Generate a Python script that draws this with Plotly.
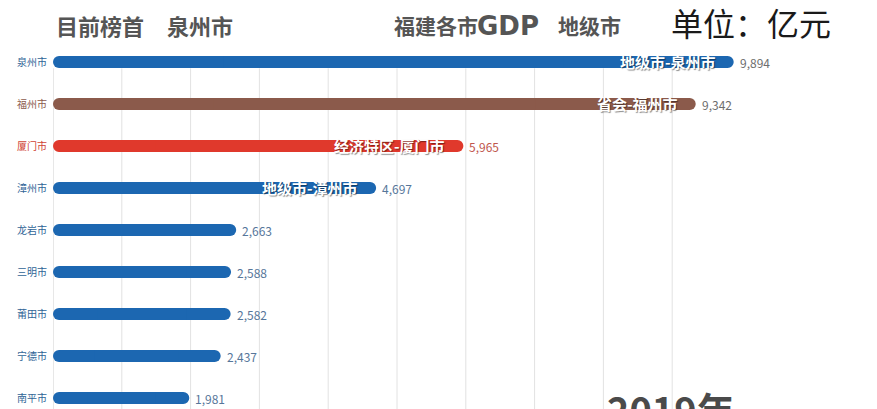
import plotly.graph_objects as go

cities = ["泉州市", "福州市", "厦门市", "漳州市", "龙岩市", "三明市", "莆田市", "宁德市", "南平市"]
gdp = [9894, 9342, 5965, 4697, 2663, 2588, 2582, 2437, 1981]
inner_labels = ["地级市-泉州市", "省会-福州市", "经济特区-厦门市", "地级市-漳州市", "", "", "", "", ""]
year_label = "2019年"
title_left_a = "目前榜首"
title_left_b = "泉州市"
title_mid_a = "福建各市"
title_mid_b = "GDP"
title_mid_c = "地级市"
unit_label = "单位：亿元"
grid_ticks = [1000, 2000, 3000, 4000, 5000, 6000, 7000, 8000, 9000]

BLUE = "#1c67b1"
BROWN = "#8b5a4b"
RED = "#e0392c"
bar_colors = [BLUE, BROWN, RED, BLUE, BLUE, BLUE, BLUE, BLUE, BLUE]
label_colors = ["#2f6496", "#8b5a4b", "#cf4336", "#2f6496", "#2f6496", "#2f6496", "#2f6496", "#2f6496", "#2f6496"]
value_colors = ["#6d6d6d", "#6d6d6d", "#c0574d", "#56769a", "#56769a", "#56769a", "#56769a", "#56769a", "#56769a"]

FONT = "Noto Sans CJK SC"
W, H = 877, 409
ML, MT, MR, MB = 53, 41, 124, 0
PW, PH = W - ML - MR, H - MT - MB
ROW_PX = 42.0

def px(x):
    return (x - ML) / PW

def py(y):
    return 1 + (MT - y) / PH

idx = list(range(len(cities)))
BW = 12 / ROW_PX
half = [v / 2 for v in gdp]

fig = go.Figure()
# left piece, drawn from the middle back to 0 -> rounded cap at 0
fig.add_trace(go.Bar(
    y=idx, x=[-h for h in half], base=half, orientation="h", width=BW,
    marker=dict(color=bar_colors, cornerradius=6, line=dict(width=0)),
    cliponaxis=False, hoverinfo="skip", showlegend=False,
))
# right piece, from the middle to the value -> rounded cap at the value
fig.add_trace(go.Bar(
    y=idx, x=half, base=half, orientation="h", width=BW,
    marker=dict(color=bar_colors, cornerradius=6, line=dict(width=0)),
    cliponaxis=False, hoverinfo="skip", showlegend=False,
))
# square middle piece hiding the joint
fig.add_trace(go.Bar(
    y=idx, x=half, base=[v / 4 for v in gdp], orientation="h", width=BW,
    marker=dict(color=bar_colors, cornerradius=0, line=dict(width=0)),
    cliponaxis=False, hoverinfo="skip", showlegend=False,
))

annotations = []
for i, (v, lab) in enumerate(zip(gdp, inner_labels)):
    annotations.append(dict(
        x=v, y=i, xref="x", yref="y", text=f"{v:,}", showarrow=False,
        xanchor="left", yanchor="middle", xshift=4, yshift=0,
        font=dict(family=FONT, size=12, color=value_colors[i]),
    ))
    if lab:
        annotations.append(dict(
            x=v, y=i, xref="x", yref="y", text=f"<b>{lab}</b>", showarrow=False,
            xanchor="right", yanchor="middle", xshift=-16, yshift=1,
            font=dict(family=FONT, size=15, color="white",
                      shadow="1px 1px 1px rgba(0,0,0,0.45)"),
        ))

def title(text, x, y, size, color, bold=True, family=FONT):
    return dict(x=px(x), y=py(y), xref="paper", yref="paper",
                text=f"<b>{text}</b>" if bold else text,
                showarrow=False, xanchor="left", yanchor="middle",
                font=dict(family=family, size=size, color=color))

annotations += [
    title(title_left_a, 54, 25, 22, "#555555"),
    title(title_left_b, 165, 25, 22, "#555555"),
    title(title_mid_a, 392, 25, 21, "#555555"),
    title(title_mid_b, 475, 26, 26, "#555555", family="DejaVu Sans"),
    title(title_mid_c, 556, 25, 21, "#555555"),
    title(unit_label, 669, 22, 32, "#1a1a1a", bold=False),
    title(year_label, 605, 408, 38, "#4a4a4a"),
]

grid_top = 0.15
shapes = []
for t in grid_ticks:
    shapes.append(dict(type="line", xref="x", yref="y", x0=t, x1=t, y0=grid_top, y1=8.5,
                       line=dict(color="#e2e2e2", width=1), layer="below"))
shapes.append(dict(type="line", xref="x", yref="y", x0=0, x1=0, y0=grid_top, y1=8.5,
                   line=dict(color="#d0d0d0", width=1), layer="below"))

fig.update_layout(
    width=W, height=H,
    margin=dict(l=ML, r=MR, t=MT, b=MB, pad=0),
    paper_bgcolor="white", plot_bgcolor="white",
    barmode="overlay",
    xaxis=dict(range=[0, PW / 0.0688], showgrid=False, zeroline=False,
               showticklabels=False, showline=False, fixedrange=True),
    yaxis=dict(range=[-0.5 + PH / ROW_PX, -0.5], tickmode="array", tickvals=idx,
               ticktext=[f"<span style='color:{c}'>{n}</span>" for n, c in zip(cities, label_colors)],
               tickfont=dict(family=FONT, size=10), showgrid=False, zeroline=False,
               showline=False, ticks="", ticklabelstandoff=5, fixedrange=True),
    shapes=shapes,
    annotations=annotations,
    font=dict(family=FONT),
)

fig.write_html("out.html")
